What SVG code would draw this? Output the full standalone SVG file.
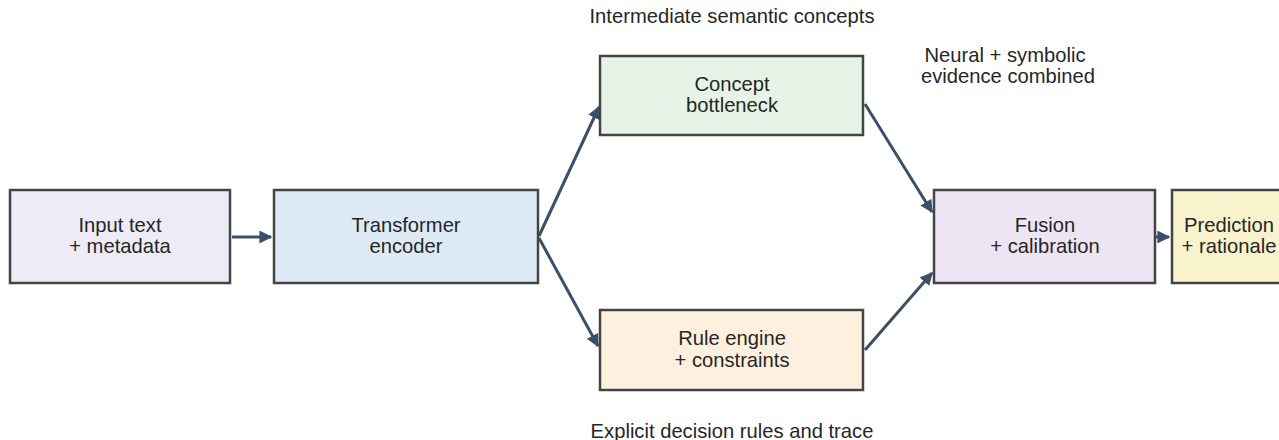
<svg xmlns="http://www.w3.org/2000/svg" width="1279" height="440" viewBox="0 0 1279 440">
<style>
.box{stroke:#444;stroke-width:2.5}
.t{font-family:"Liberation Sans",Arial,sans-serif;font-size:20.2px;fill:#262626;text-anchor:middle;dominant-baseline:central}
.c{stroke:#3a5069;stroke-width:3;fill:none;marker-end:url(#ah)}
</style>
<defs>
<marker id="ah" viewBox="0 0 10 10" refX="9" refY="5" markerWidth="4.3" markerHeight="4.3" orient="auto" markerUnits="strokeWidth">
<path d="M0,0 L10,5 L0,10 z" fill="#3a5069"/>
</marker>
</defs>
<rect width="1279" height="440" fill="#fff"/>
<g id="connectors">
<line class="c" x1="232" y1="237" x2="271" y2="237"/>
<line class="c" x1="539" y1="236" x2="599" y2="107"/>
<line class="c" x1="539" y1="238" x2="598" y2="346"/>
<line class="c" x1="865" y1="104" x2="932" y2="212"/>
<line class="c" x1="865" y1="350" x2="932" y2="273"/>
<line class="c" x1="1156" y1="237" x2="1169" y2="237"/>
</g>
<g id="input"><rect class="box" x="10" y="190" width="220" height="93" fill="#edebf5"/><text class="t" x="120" y="225">Input text</text><text class="t" x="120" y="246">+ metadata</text></g>
<g id="encoder"><rect class="box" x="274" y="190" width="264" height="93" fill="#ddeaf5"/><text class="t" x="406" y="225">Transformer</text><text class="t" x="406" y="246">encoder</text></g>
<g id="concept"><rect class="box" x="600" y="56" width="263" height="79" fill="#e6f4e8"/><text class="t" x="732" y="84">Concept</text><text class="t" x="732" y="105">bottleneck</text></g>
<g id="rule"><rect class="box" x="600" y="310" width="263" height="80" fill="#fef0de"/><text class="t" x="732" y="338">Rule engine</text><text class="t" x="732" y="360">+ constraints</text></g>
<g id="fusion"><rect class="box" x="934" y="190" width="221" height="93" fill="#eee5f4"/><text class="t" x="1045" y="225">Fusion</text><text class="t" x="1045" y="246">+ calibration</text></g>
<g id="prediction"><rect class="box" x="1172" y="190" width="130" height="93" fill="#f8f2cd"/><text class="t" x="1229" y="225">Prediction</text><text class="t" x="1229" y="246">+ rationale</text></g>
<g id="labels">
<text class="t" x="732" y="16">Intermediate semantic concepts</text>
<text class="t" x="1005" y="55">Neural + symbolic</text>
<text class="t" x="1008" y="76">evidence combined</text>
<text class="t" x="732" y="431">Explicit decision rules and trace</text>
</g>
</svg>
